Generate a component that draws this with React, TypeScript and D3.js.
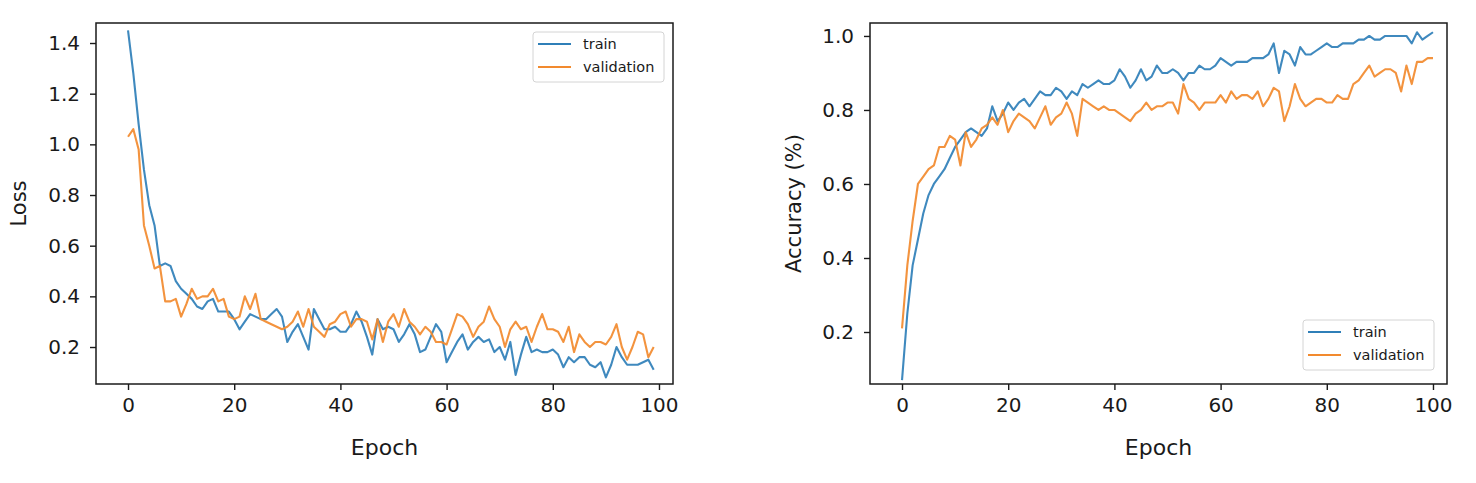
// @ts-nocheck
import React, { useEffect, useRef } from "react";
import * as d3 from "d3";

// loss per epoch (epochs 0..99)
const lossTrain = [
  1.45, 1.28, 1.08, 0.9, 0.76, 0.68, 0.52, 0.53, 0.52, 0.46,
  0.43, 0.41, 0.39, 0.36, 0.35, 0.38, 0.39, 0.34, 0.34, 0.34,
  0.31, 0.27, 0.3, 0.33, 0.32, 0.31, 0.31, 0.33, 0.35, 0.32,
  0.22, 0.26, 0.29, 0.24, 0.19, 0.35, 0.31, 0.27, 0.27, 0.28,
  0.26, 0.26, 0.29, 0.34, 0.3, 0.24, 0.17, 0.31, 0.27, 0.28,
  0.27, 0.22, 0.25, 0.29, 0.25, 0.18, 0.19, 0.24, 0.29, 0.26,
  0.14, 0.18, 0.22, 0.25, 0.19, 0.22, 0.24, 0.22, 0.23, 0.18,
  0.2, 0.15, 0.22, 0.09, 0.17, 0.24, 0.18, 0.19, 0.18, 0.18,
  0.19, 0.17, 0.12, 0.16, 0.14, 0.16, 0.16, 0.13, 0.12, 0.14,
  0.08, 0.13, 0.2, 0.16, 0.13, 0.13, 0.13, 0.14, 0.15, 0.11,
];
const lossVal = [
  1.03, 1.06, 0.98, 0.68, 0.6, 0.51, 0.52, 0.38, 0.38, 0.39,
  0.32, 0.37, 0.43, 0.39, 0.4, 0.4, 0.43, 0.38, 0.39, 0.32,
  0.31, 0.32, 0.4, 0.35, 0.41, 0.31, 0.3, 0.29, 0.28, 0.27,
  0.28, 0.3, 0.34, 0.28, 0.35, 0.28, 0.26, 0.24, 0.29, 0.3,
  0.33, 0.34, 0.28, 0.31, 0.31, 0.3, 0.23, 0.31, 0.22, 0.3,
  0.33, 0.28, 0.35, 0.3, 0.28, 0.25, 0.28, 0.26, 0.22, 0.22,
  0.21, 0.27, 0.33, 0.32, 0.29, 0.24, 0.28, 0.3, 0.36, 0.31,
  0.28, 0.2, 0.27, 0.3, 0.27, 0.28, 0.22, 0.28, 0.33, 0.27,
  0.27, 0.26, 0.22, 0.28, 0.18, 0.25, 0.22, 0.2, 0.22, 0.22,
  0.21, 0.24, 0.29, 0.2, 0.15, 0.2, 0.26, 0.25, 0.16, 0.2,
];

// accuracy per epoch (epochs 0..100)
const accTrain = [
  0.07, 0.25, 0.38, 0.45, 0.52, 0.57, 0.6, 0.62, 0.64, 0.67,
  0.7, 0.72, 0.74, 0.75, 0.74, 0.73, 0.75, 0.81, 0.77, 0.79,
  0.82, 0.8, 0.82, 0.83, 0.81, 0.83, 0.85, 0.84, 0.84, 0.86,
  0.85, 0.83, 0.85, 0.84, 0.87, 0.86, 0.87, 0.88, 0.87, 0.87,
  0.88, 0.91, 0.89, 0.86, 0.88, 0.91, 0.88, 0.89, 0.92, 0.9,
  0.9, 0.91, 0.9, 0.88, 0.9, 0.9, 0.92, 0.91, 0.91, 0.92,
  0.94, 0.93, 0.92, 0.93, 0.93, 0.93, 0.94, 0.94, 0.94, 0.95,
  0.98, 0.9, 0.96, 0.95, 0.92, 0.97, 0.95, 0.95, 0.96, 0.97,
  0.98, 0.97, 0.97, 0.98, 0.98, 0.98, 0.99, 0.99, 1.0, 0.99,
  0.99, 1.0, 1.0, 1.0, 1.0, 1.0, 0.98, 1.01, 0.99, 1.0,
  1.01,
];
const accVal = [
  0.21, 0.38, 0.5, 0.6, 0.62, 0.64, 0.65, 0.7, 0.7, 0.73,
  0.72, 0.65, 0.74, 0.7, 0.72, 0.75, 0.76, 0.78, 0.76, 0.8,
  0.74, 0.77, 0.79, 0.78, 0.77, 0.75, 0.78, 0.81, 0.76, 0.78,
  0.79, 0.82, 0.79, 0.73, 0.83, 0.82, 0.81, 0.8, 0.81, 0.8,
  0.8, 0.79, 0.78, 0.77, 0.79, 0.8, 0.82, 0.8, 0.81, 0.81,
  0.82, 0.82, 0.79, 0.87, 0.83, 0.82, 0.8, 0.82, 0.82, 0.82,
  0.84, 0.82, 0.85, 0.83, 0.84, 0.84, 0.83, 0.85, 0.81, 0.83,
  0.86, 0.85, 0.77, 0.81, 0.87, 0.83, 0.81, 0.82, 0.83, 0.83,
  0.82, 0.82, 0.84, 0.83, 0.83, 0.87, 0.88, 0.9, 0.92, 0.89,
  0.9, 0.91, 0.91, 0.9, 0.85, 0.92, 0.87, 0.93, 0.93, 0.94,
  0.94,
];

const epochTicks = [0, 20, 40, 60, 80, 100];
const lossTicks = [0.2, 0.4, 0.6, 0.8, 1.0, 1.2, 1.4];
const accTicks = [0.2, 0.4, 0.6, 0.8, 1.0];
const seriesNames = ["train", "validation"];
const seriesColors = ["#2f7fb8", "#f28a2e"];

const FONT = "DejaVu Sans, Liberation Sans, sans-serif";
const INK = "#1a1a1a";

function drawPanel(root, cfg) {
  const { box, xDomain, yDomain, series, yTicks, yLabel, labelX, legend } = cfg;
  const x = d3.scaleLinear().domain(xDomain).range([box.left, box.right]);
  const y = d3.scaleLinear().domain(yDomain).range([box.bottom, box.top]);
  const g = root.append("g");

  // the two curves
  series.forEach((values, k) => {
    const line = d3
      .line()
      .x((d, i) => x(i))
      .y((d) => y(d));
    g.append("path")
      .datum(values)
      .attr("d", line)
      .attr("fill", "none")
      .attr("stroke", seriesColors[k])
      .attr("stroke-width", 2.1)
      .attr("stroke-linejoin", "round")
      .attr("opacity", 0.92);
  });

  // frame
  g.append("rect")
    .attr("x", box.left)
    .attr("y", box.top)
    .attr("width", box.right - box.left)
    .attr("height", box.bottom - box.top)
    .attr("fill", "none")
    .attr("stroke", INK)
    .attr("stroke-width", 1.5);

  // x axis
  const xAxis = g
    .append("g")
    .attr("transform", `translate(0,${box.bottom})`)
    .call(
      d3
        .axisBottom(x)
        .tickValues(epochTicks)
        .tickSize(6)
        .tickPadding(8)
        .tickFormat(d3.format("d")),
    );
  xAxis.select(".domain").remove();

  // y axis
  const yAxis = g
    .append("g")
    .attr("transform", `translate(${box.left},0)`)
    .call(
      d3
        .axisLeft(y)
        .tickValues(yTicks)
        .tickSize(6)
        .tickPadding(10)
        .tickFormat(d3.format(".1f")),
    );
  yAxis.select(".domain").remove();

  [xAxis, yAxis].forEach((a) => {
    a.selectAll("line").attr("stroke", INK).attr("stroke-width", 1.4);
    a.selectAll("text")
      .attr("fill", INK)
      .style("font-family", FONT)
      .style("font-size", "20px");
  });

  // axis titles
  g.append("text")
    .attr("x", (box.left + box.right) / 2)
    .attr("y", box.bottom + 71)
    .attr("text-anchor", "middle")
    .attr("fill", INK)
    .style("font-family", FONT)
    .style("font-size", "22px")
    .text("Epoch");

  g.append("text")
    .attr(
      "transform",
      `translate(${labelX},${(box.top + box.bottom) / 2}) rotate(-90)`,
    )
    .attr("text-anchor", "middle")
    .attr("fill", INK)
    .style("font-family", FONT)
    .style("font-size", "21px")
    .text(yLabel);

  // legend
  const lg = g.append("g").attr("transform", `translate(${legend.x},${legend.y})`);
  lg.append("rect")
    .attr("width", 131)
    .attr("height", 50)
    .attr("rx", 3)
    .attr("fill", "white")
    .attr("stroke", "#d4d4d4")
    .attr("stroke-width", 1);
  seriesNames.forEach((name, k) => {
    const cy = 12 + k * 23;
    lg.append("line")
      .attr("x1", 5)
      .attr("x2", 38)
      .attr("y1", cy)
      .attr("y2", cy)
      .attr("stroke", seriesColors[k])
      .attr("stroke-width", 2);
    lg.append("text")
      .attr("x", 50)
      .attr("y", cy)
      .attr("dy", "0.35em")
      .attr("fill", INK)
      .style("font-family", FONT)
      .style("font-size", "14.5px")
      .text(name);
  });
}

const App = () => {
  const svgRef = useRef();

  useEffect(() => {
    const svg = d3.select(svgRef.current);
    svg.selectAll("*").remove();

    drawPanel(svg, {
      box: { left: 96, right: 673, top: 23, bottom: 384 },
      xDomain: [-6.03, 102.64],
      yDomain: [0.054, 1.479],
      series: [lossTrain, lossVal],
      yTicks: lossTicks,
      yLabel: "Loss",
      labelX: 26,
      legend: { x: 533, y: 32 },
    });

    drawPanel(svg, {
      box: { left: 870, right: 1447, top: 23, bottom: 384 },
      xDomain: [-6.03, 102.64],
      yDomain: [0.0595, 1.035],
      series: [accTrain, accVal],
      yTicks: accTicks,
      yLabel: "Accuracy (%)",
      labelX: 801,
      legend: { x: 1303, y: 320 },
    });
  }, []);

  return (
    <svg
      ref={svgRef}
      width={1476}
      height={483}
      style={{ position: "absolute", left: 0, top: 0, background: "white" }}
    ></svg>
  );
};

export default App;
